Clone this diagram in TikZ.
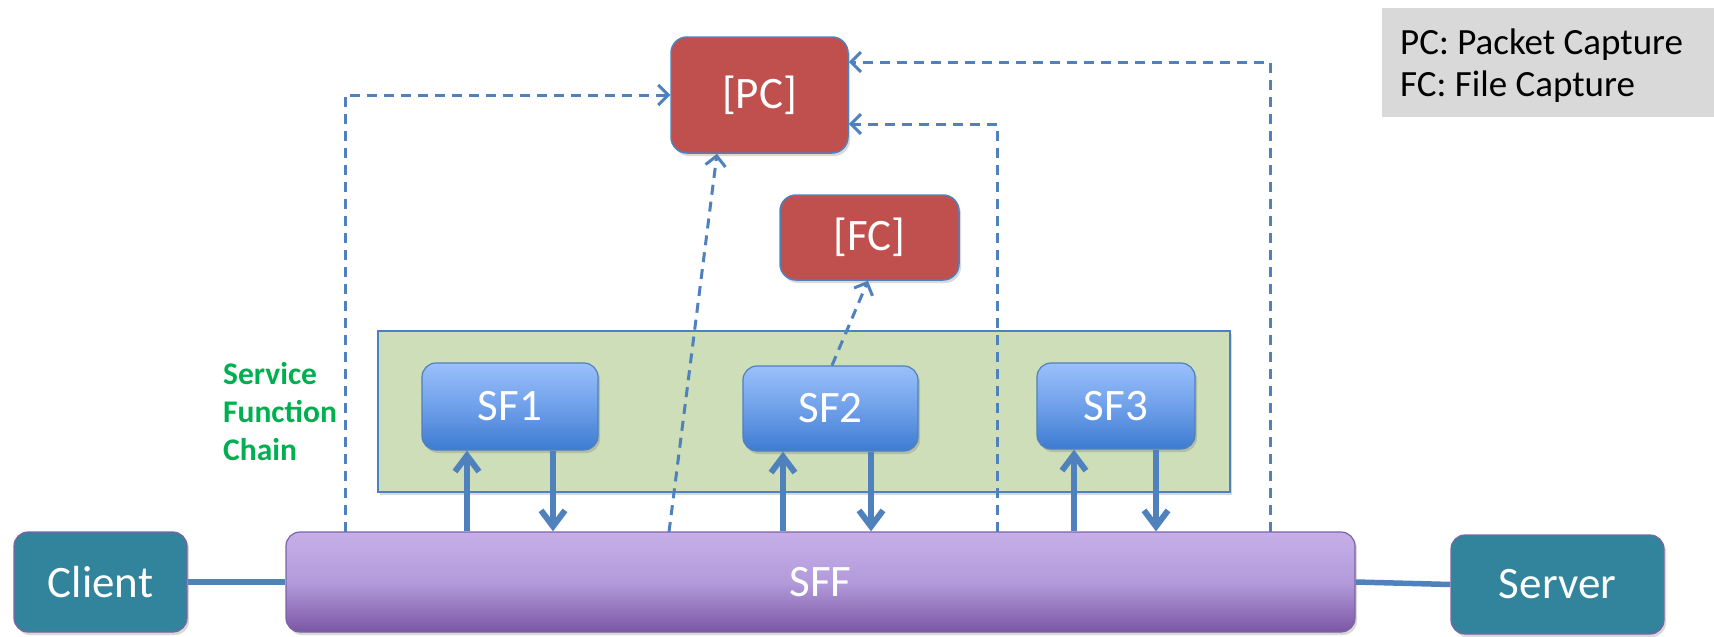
\documentclass[tikz,border=0pt]{standalone}
\usepackage{fontspec}
\setmainfont{Carlito}
\usetikzlibrary{arrows.meta,shadows}
\definecolor{pcred}{HTML}{C0504D}
\definecolor{lineblue}{HTML}{4F81BD}
\definecolor{sftop}{HTML}{9AC0FA}
\definecolor{sfmid}{HTML}{6FA0EA}
\definecolor{sfbot}{HTML}{3D7BD0}
\definecolor{chaingreen}{HTML}{CDDEB9}
\definecolor{sfftop}{HTML}{C6AFE8}
\definecolor{sffmid}{HTML}{B39BDB}
\definecolor{sffbot}{HTML}{7A56A3}
\definecolor{sffborder}{HTML}{7F62A6}
\definecolor{tealbox}{HTML}{31849B}
\definecolor{legendgray}{HTML}{D9D9D9}
\definecolor{labelgreen}{HTML}{00B050}
\begin{document}
\begin{tikzpicture}[x=1pt,y=-1pt,
  softshadow/.style={drop shadow={shadow xshift=2pt,shadow yshift=-3pt,opacity=0.25,fill=black!60}},
  boxtext/.style={text=white,font=\fontsize{45}{54}\selectfont,inner sep=0pt},
  capbox/.style={boxtext,rectangle,rounded corners=16pt,fill=pcred,draw=lineblue,line width=1.5pt,softshadow},
  sfbox/.style={boxtext,rectangle,rounded corners=14pt,top color=sftop,bottom color=sfbot,middle color=sfmid,draw=lineblue,line width=1.2pt,softshadow},
  endbox/.style={boxtext,rectangle,rounded corners=14pt,fill=tealbox,draw=sffborder,line width=1.2pt,softshadow},
  sffbox/.style={boxtext,rectangle,rounded corners=14pt,top color=sfftop,bottom color=sffbot,middle color=sffmid,draw=sffborder,line width=1.2pt,softshadow},
  chainbox/.style={rectangle,fill=chaingreen,draw=lineblue,line width=1.2pt,inner sep=0pt,softshadow},
  dasharrow/.style={draw=lineblue,line width=3pt,dash pattern=on 10pt off 7pt,-{Straight Barb[length=10pt,width=20pt]}},
  solidarrow/.style={draw=lineblue,line width=6pt,-{Straight Barb[length=16pt,width=24pt]}},
  linkline/.style={draw=lineblue,line width=5.5pt}
]
\useasboundingbox (0,0) rectangle (1714,637);

% legend
\node[rectangle,fill=legendgray,minimum width=332pt,minimum height=109pt,inner sep=0pt,anchor=north west] (LG) at (1382,8) {};
\node[anchor=north west,align=left,inner sep=0pt,font=\fontsize{37}{42}\selectfont] (LT) at (1400,29) {PC: Packet Capture\\FC: File Capture};

% chain container
\node[chainbox,minimum width=852pt,minimum height=161pt] (CH) at (804,411.5) {};
\node[anchor=north west,align=left,inner sep=0pt,text=labelgreen,font=\fontsize{31.5}{38}\bfseries\selectfont] (SFC) at (223,362) {Service\\Function\\Chain};

% boxes
\node[capbox,minimum width=177pt,minimum height=116pt] (PC) at (759.5,95) {[PC]};
\node[capbox,minimum width=179pt,minimum height=85pt] (FC) at (869.5,237.5) {[FC]};
\node[sfbox,minimum width=176pt,minimum height=87pt] (SF1) at (510,406.5) {SF1};
\node[sfbox,minimum width=175pt,minimum height=85pt] (SF2) at (830.5,408.5) {SF2};
\node[sfbox,minimum width=158pt,minimum height=86pt] (SF3) at (1116,406) {SF3};
\node[sffbox,minimum width=1069pt,minimum height=100pt] (SFF) at (820.5,582) {SFF};
\node[endbox,minimum width=173pt,minimum height=100pt] (CL) at (100.5,582) {Client};
\node[endbox,minimum width=213pt,minimum height=99pt] (SV) at (1557.5,584.5) {Server};

% links
\draw[linkline] (CL.east) -- (SFF.west);
\draw[linkline] (SFF.east) -- (SV.west);

% solid arrows between SFF and SFs
\draw[solidarrow] (SFF.north -| 467,0) -- (SF1.south -| 467,0);
\draw[solidarrow] (SF1.south -| 553,0) -- (SFF.north -| 553,0);
\draw[solidarrow] (SFF.north -| 783,0) -- (SF2.south -| 783,0);
\draw[solidarrow] (SF2.south -| 871,0) -- (SFF.north -| 871,0);
\draw[solidarrow] (SFF.north -| 1074,0) -- (SF3.south -| 1074,0);
\draw[solidarrow] (SF3.south -| 1156,0) -- (SFF.north -| 1156,0);

% dashed capture paths
\coordinate (L1) at (345,532);
\coordinate (D1) at (669,532);
\coordinate (R1) at (997,532);
\coordinate (R2) at (1270,532);
\draw[dasharrow] (L1) |- (PC.west);
\draw[dasharrow] (D1) -- (PC.south -| 717,0);
\draw[dasharrow] (R1) |- (PC.east |- 0,124);
\draw[dasharrow] (R2) |- (PC.east |- 0,62);
\draw[dasharrow] (SF2.north -| 832,0) -- (FC.south -| 868,0);
\end{tikzpicture}
\end{document}
